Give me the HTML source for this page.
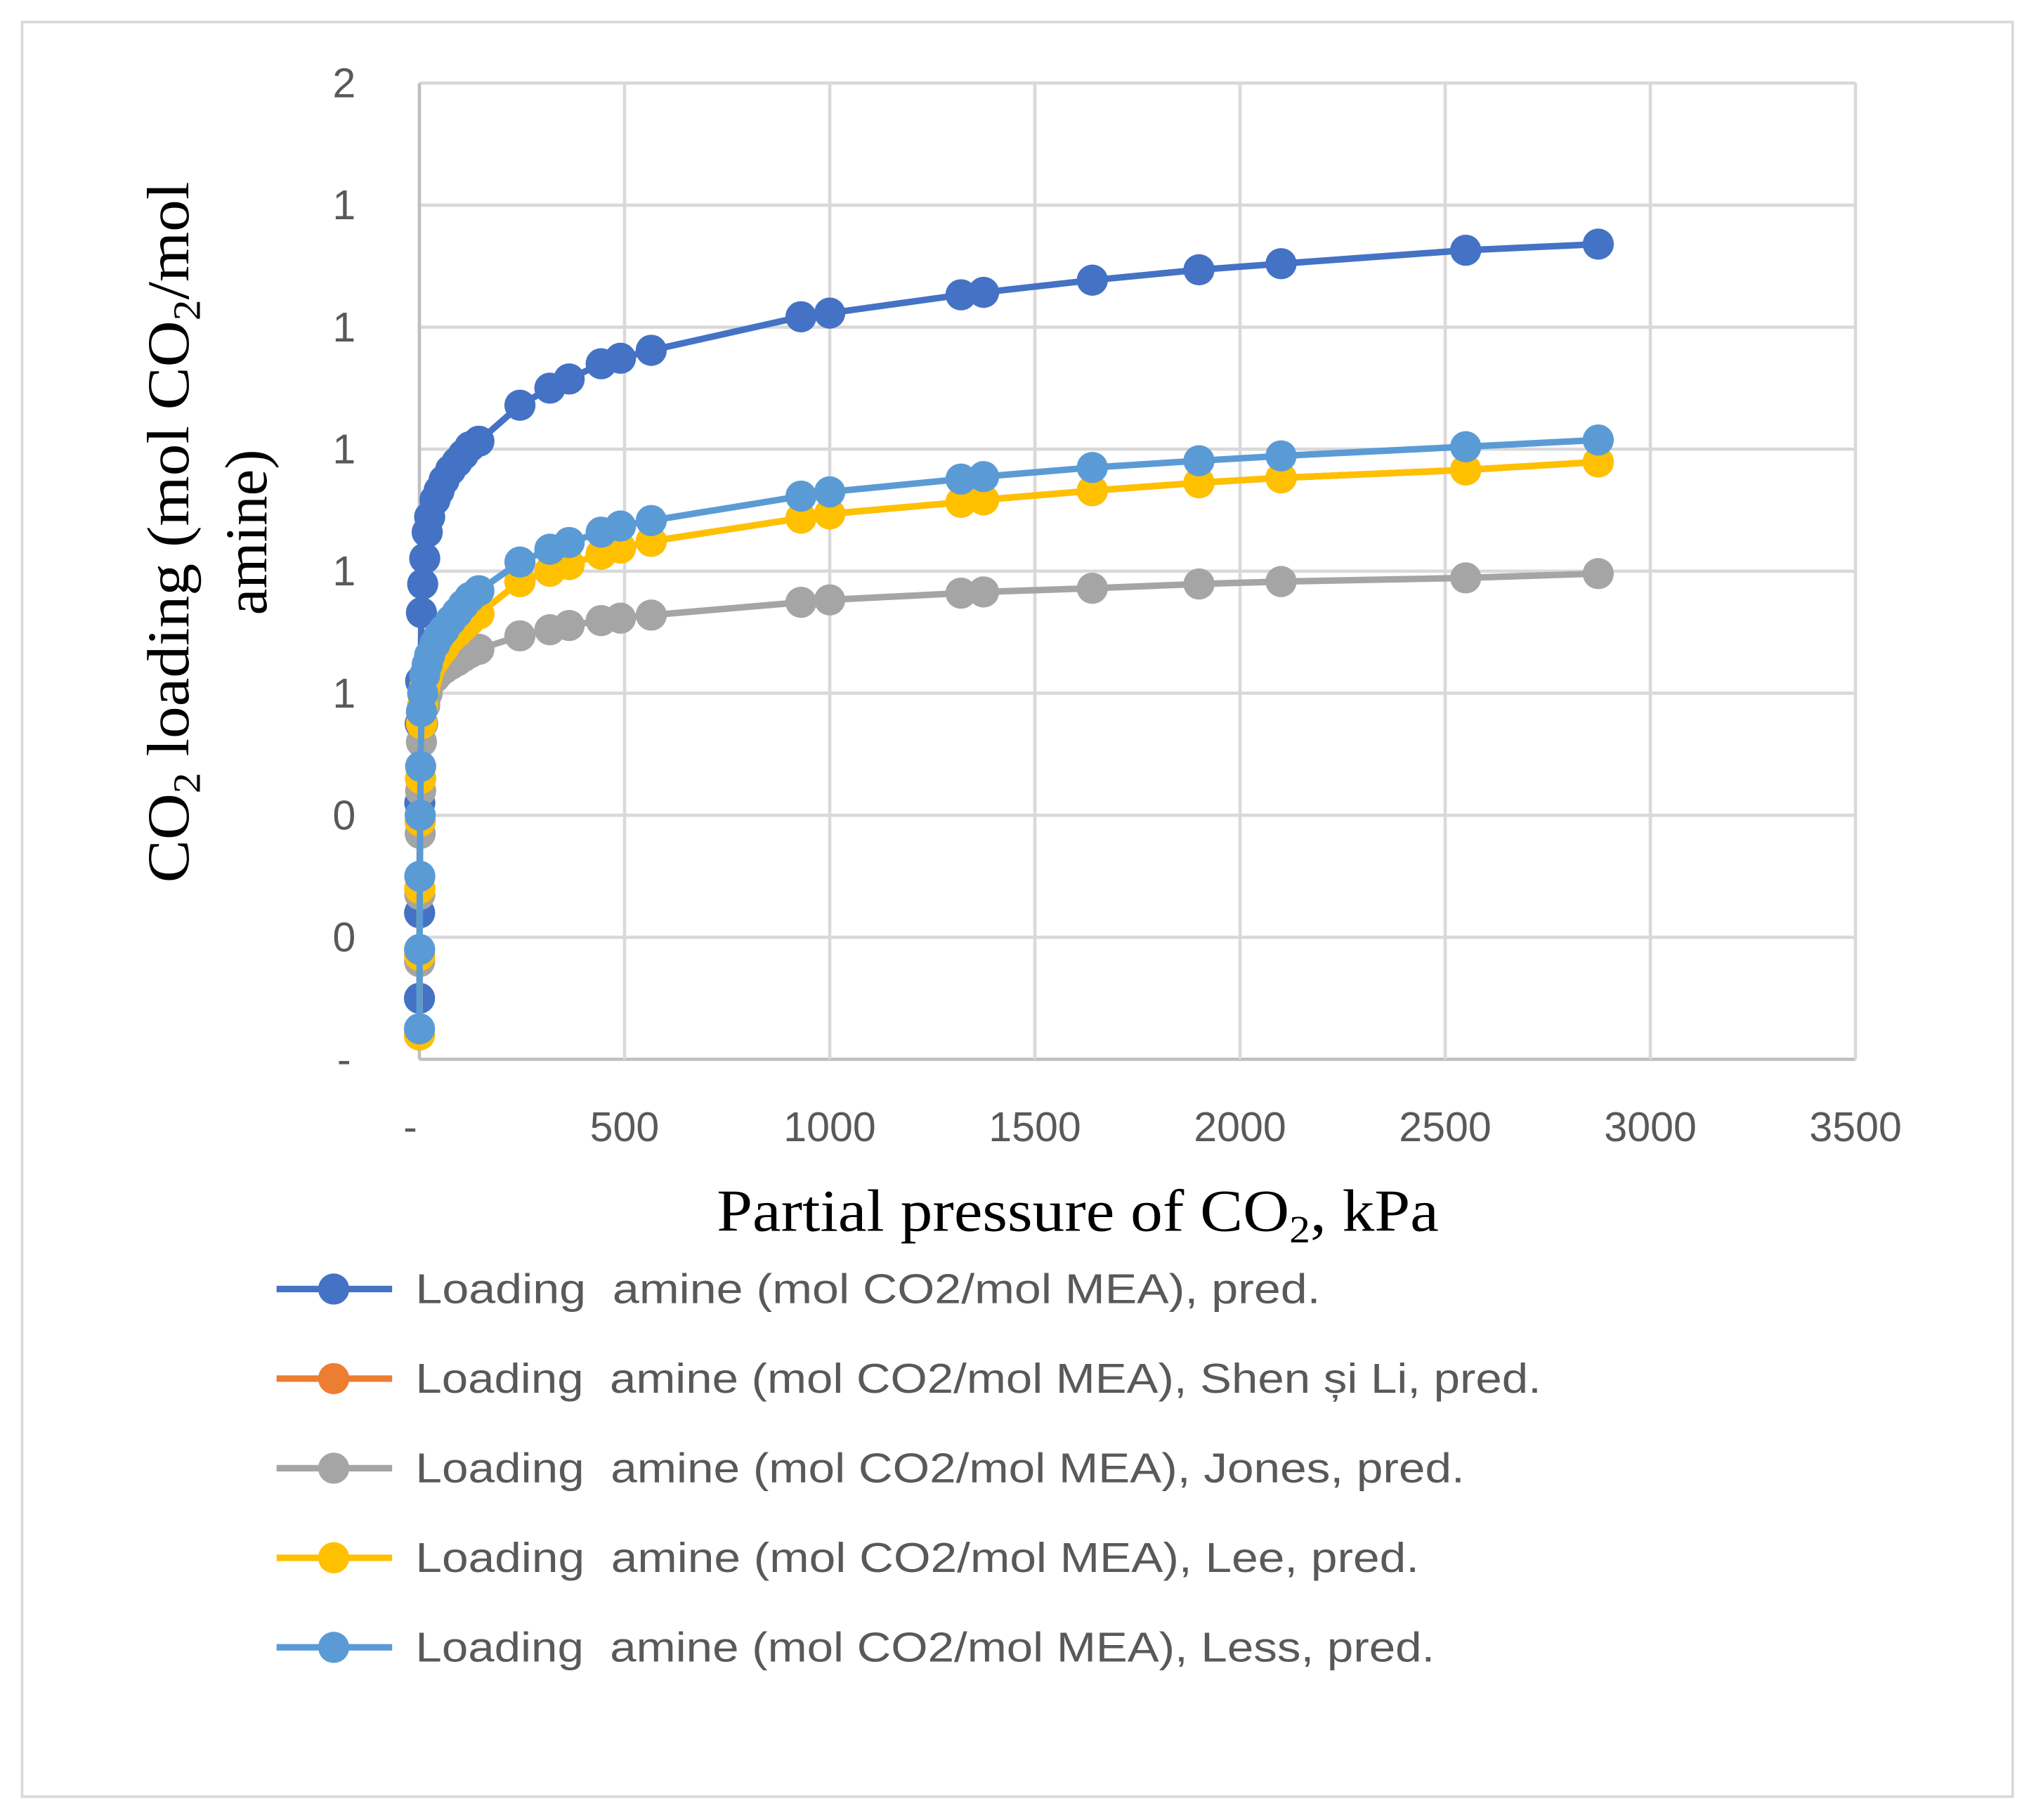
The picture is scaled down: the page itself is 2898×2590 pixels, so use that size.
<!DOCTYPE html>
<html><head><meta charset="utf-8"><style>html,body{margin:0;padding:0;background:#fff}svg{display:block}text{white-space:pre}</style></head>
<body>
<svg id="chart" width="2898" height="2590" viewBox="0 0 1568 1402" preserveAspectRatio="none" xmlns="http://www.w3.org/2000/svg">
<rect x="17" y="17" width="1533" height="1367" fill="#fff" stroke="#d9d9d9" stroke-width="2"/>
<g id="grid"></g>
<g id="series"></g>
<g id="ticks" font-family="Liberation Sans, sans-serif" font-size="32" fill="#595959"></g>
<g font-family="Liberation Serif, serif" font-size="46" fill="#000" text-anchor="middle">
<text transform="translate(145,410) rotate(-90)" textLength="540" lengthAdjust="spacingAndGlyphs">CO<tspan font-size="30" dy="9">2</tspan><tspan dy="-9"> loading (mol CO</tspan><tspan font-size="30" dy="9">2</tspan><tspan dy="-9">/mol</tspan></text>
<text transform="translate(205,410) rotate(-90)">amine)</text>
</g>
<text x="830" y="948" text-anchor="middle" font-family="Liberation Serif, serif" font-size="46" fill="#000" textLength="556" lengthAdjust="spacingAndGlyphs">Partial pressure of CO<tspan font-size="30" dy="9">2</tspan><tspan dy="-9">, kPa</tspan></text>
<g id="legend" font-family="Liberation Sans, sans-serif" font-size="32" fill="#595959"></g>
</svg>
<script>
const pressures=[2873,2550,2100,1900,1640,1375,1320,1000,930,565,490,443,365,318,245,145,123,107,92,76,60,48,38,25,19,13,8,5,3,2,1,0.5,0.2];
const predValues=[1.336,1.326,1.304,1.294,1.277,1.257,1.253,1.223,1.217,1.162,1.149,1.140,1.115,1.100,1.072,1.013,1.004,0.991,0.979,0.966,0.949,0.932,0.917,0.889,0.864,0.821,0.779,0.732,0.62,0.55,0.42,0.24,0.10];
const shenLiValues=[0.979,0.966,0.953,0.945,0.932,0.917,0.913,0.894,0.887,0.849,0.838,0.828,0.811,0.800,0.783,0.73,0.72,0.71,0.70,0.69,0.675,0.665,0.655,0.64,0.625,0.61,0.58,0.55,0.46,0.39,0.28,0.17,0.04];
const jonesValues=[0.796,0.789,0.783,0.779,0.772,0.766,0.764,0.753,0.749,0.728,0.723,0.719,0.711,0.704,0.694,0.672,0.666,0.66,0.653,0.647,0.640,0.634,0.626,0.617,0.60,0.58,0.55,0.52,0.44,0.37,0.27,0.16,0.04];
const leeValues=[0.979,0.966,0.953,0.945,0.932,0.917,0.913,0.894,0.887,0.849,0.838,0.828,0.811,0.800,0.783,0.73,0.72,0.71,0.70,0.69,0.675,0.665,0.655,0.64,0.625,0.61,0.58,0.55,0.46,0.39,0.28,0.17,0.04];
const lessValues=[1.015,1.004,0.989,0.981,0.970,0.955,0.951,0.930,0.923,0.883,0.874,0.864,0.847,0.836,0.815,0.768,0.757,0.745,0.732,0.719,0.704,0.694,0.681,0.662,0.647,0.630,0.60,0.57,0.48,0.40,0.30,0.18,0.05];
const xTicks=[0,500,1000,1500,2000,2500,3000,3500];
const xTickLabels=["-","500","1000","1500","2000","2500","3000","3500"];
const yTicks=[0,0.2,0.4,0.6,0.8,1.0,1.2,1.4,1.6];
const yTickLabels=["-","0","0","1","1","1","1","1","2"];
const seriesNames=["Loading  amine (mol CO2/mol MEA), pred.","Loading  amine (mol CO2/mol MEA), Shen și Li, pred.","Loading  amine (mol CO2/mol MEA), Jones, pred.","Loading  amine (mol CO2/mol MEA), Lee, pred.","Loading  amine (mol CO2/mol MEA), Less, pred."];
const legendWidths=[697,867,808,773,785];
const seriesColors=["#4472c4","#ed7d31","#a5a5a5","#ffc000","#5b9bd5"];
const seriesData=[predValues,shenLiValues,jonesValues,leeValues,lessValues];
const NS="http://www.w3.org/2000/svg";
const X0=323,X1=1429,Y0=816,Y1=64;
const xs=v=>X0+v/3500*(X1-X0);
const ys=v=>Y0-v/1.6*(Y0-Y1);
function mk(t,a,p){const e=document.createElementNS(NS,t);for(const k in a)e.setAttribute(k,a[k]);p.appendChild(e);return e;}
const grid=document.getElementById('grid'),ticks=document.getElementById('ticks');
yTicks.forEach((v,i)=>{
 const l=mk('line',{x1:X0,x2:X1,y1:ys(v),y2:ys(v),stroke:i==0?'#bfbfbf':'#d9d9d9','stroke-width':2.5},grid);
 
 
 const t=mk('text',{x:265,y:ys(v)+11,'text-anchor':'middle'},ticks);t.textContent=yTickLabels[i];
 
 
});
xTicks.forEach((v,i)=>{
 const l=mk('line',{x1:xs(v),x2:xs(v),y1:Y0,y2:Y1,stroke:i==0?'#bfbfbf':'#d9d9d9','stroke-width':2.5},grid);
 
 
 const t=mk('text',{x:i==0?316:xs(v),y:879,'text-anchor':'middle'},ticks);t.textContent=xTickLabels[i];
 
 
});
const sg=document.getElementById('series');
const order=[0,2,1,3,4];
order.forEach(si=>{
 const vals=seriesData[si],c=seriesColors[si];
 const g=mk('g',{},sg);
 
 
 const pts=pressures.map((p,i)=>xs(p)+','+ys(vals[i])).join(' ');
 const pl=mk('polyline',{points:pts,fill:'none',stroke:c,'stroke-width':5,'stroke-linejoin':'round'},g);
 
 
 pressures.forEach((p,i)=>{
  const ci=mk('circle',{cx:xs(p),cy:ys(vals[i]),r:12,fill:c},g);
  
  
 });
});
const lg=document.getElementById('legend');
seriesNames.forEach((n,i)=>{
 const y=993+i*69;
 const g=mk('g',{},lg);
 
 
 mk('line',{x1:213,x2:302,y1:y,y2:y,stroke:seriesColors[i],'stroke-width':5},g);
 mk('circle',{cx:257,cy:y,r:12,fill:seriesColors[i]},g);
 const t=mk('text',{x:320,y:y+11,textLength:legendWidths[i],lengthAdjust:'spacingAndGlyphs'},g);t.textContent=n;
});
</script>
</body></html>
